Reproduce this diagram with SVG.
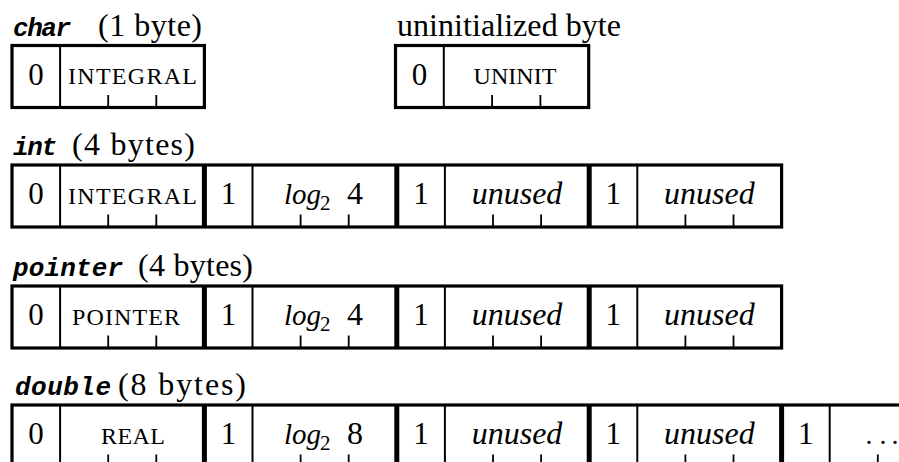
<svg xmlns="http://www.w3.org/2000/svg" width="899" height="462" viewBox="0 0 899 462">
  <style>
    .frame { fill: none; stroke: #000; stroke-width: 3.2; }
    .cell { stroke: #000; stroke-width: 2; }
    .byte { stroke: #000; stroke-width: 5; }
    .tick { stroke: #000; stroke-width: 1.8; }
    .tt { font-family: "Liberation Mono", "DejaVu Sans Mono", monospace; font-style: italic; font-weight: bold; font-size: 26px; fill: #000; }
    .rm { font-family: "Liberation Serif", "DejaVu Serif", serif; font-size: 32px; fill: #000; }
    .it { font-family: "Liberation Serif", "DejaVu Serif", serif; font-style: italic; font-size: 32px; fill: #000; }
    .sc { font-family: "Liberation Serif", "DejaVu Serif", serif; font-size: 24px; fill: #000; text-anchor: middle; }
    .num { font-family: "Liberation Serif", "DejaVu Serif", serif; font-size: 31px; fill: #000; text-anchor: middle; }
    .sub { font-family: "Liberation Serif", "DejaVu Serif", serif; font-size: 21px; fill: #000; }
    .lg { font-family: "Liberation Serif", "DejaVu Serif", serif; font-style: italic; font-size: 29px; fill: #000; }
    .dots { font-family: "Liberation Serif", "DejaVu Serif", serif; font-size: 28px; fill: #000; }
  </style>

  <!-- char: one byte, flag bit + 3-bit tag -->
  <g id="char">
    <text x="13" y="36" class="tt" textLength="58">char</text>
    <text x="98" y="36" class="rm" textLength="104">(1 byte)</text>
    <rect x="12" y="45.5" width="192.4" height="62" class="frame"/>
    <line x1="60.1" y1="45.5" x2="60.1" y2="107.5" class="cell"/>
    <line x1="108.2" y1="95" x2="108.2" y2="107.5" class="tick"/>
    <line x1="156.3" y1="95" x2="156.3" y2="107.5" class="tick"/>
    <text x="36" y="85" class="num">0</text>
    <text x="132.5" y="84" class="sc" textLength="129">INTEGRAL</text>
  </g>

  <!-- uninitialized byte -->
  <g id="uninit">
    <text x="397" y="36" class="rm" textLength="224">uninitialized byte</text>
    <rect x="395.5" y="45.5" width="193.2" height="62" class="frame"/>
    <line x1="443.8" y1="45.5" x2="443.8" y2="107.5" class="cell"/>
    <line x1="492.1" y1="95" x2="492.1" y2="107.5" class="tick"/>
    <line x1="540.4" y1="95" x2="540.4" y2="107.5" class="tick"/>
    <text x="419.6" y="85" class="num">0</text>
    <text x="515" y="84" class="sc" textLength="83">UNINIT</text>
  </g>

  <!-- int: four bytes -->
  <g id="int">
    <text x="13" y="155" class="tt" textLength="44">int</text>
    <text x="72" y="155" class="rm" textLength="123">(4 bytes)</text>
    <rect x="12" y="165" width="769.6" height="62" class="frame"/>
    <line x1="204.4" y1="165" x2="204.4" y2="227" class="byte"/>
    <line x1="396.8" y1="165" x2="396.8" y2="227" class="byte"/>
    <line x1="589.2" y1="165" x2="589.2" y2="227" class="byte"/>
    <line x1="60.1" y1="165" x2="60.1" y2="227" class="cell"/>
    <line x1="252.5" y1="165" x2="252.5" y2="227" class="cell"/>
    <line x1="444.9" y1="165" x2="444.9" y2="227" class="cell"/>
    <line x1="637.3" y1="165" x2="637.3" y2="227" class="cell"/>
    <g class="tick">
      <line x1="108.2" y1="214.5" x2="108.2" y2="227"/>
      <line x1="156.3" y1="214.5" x2="156.3" y2="227"/>
      <line x1="300.6" y1="214.5" x2="300.6" y2="227"/>
      <line x1="348.7" y1="214.5" x2="348.7" y2="227"/>
      <line x1="493" y1="214.5" x2="493" y2="227"/>
      <line x1="541.1" y1="214.5" x2="541.1" y2="227"/>
      <line x1="685.4" y1="214.5" x2="685.4" y2="227"/>
      <line x1="733.5" y1="214.5" x2="733.5" y2="227"/>
    </g>
    <text x="36" y="204" class="num">0</text>
    <text x="132.5" y="203.5" class="sc" textLength="129">INTEGRAL</text>
    <text x="228.5" y="204" class="num">1</text>
    <text x="284" y="203.5" class="lg">log</text>
    <text x="320" y="209.5" class="sub">2</text>
    <text x="347" y="204" class="rm">4</text>
    <text x="420.9" y="204" class="num">1</text>
    <text x="517" y="203.5" class="it" text-anchor="middle">unused</text>
    <text x="613.3" y="204" class="num">1</text>
    <text x="709.4" y="203.5" class="it" text-anchor="middle">unused</text>
  </g>

  <!-- pointer: four bytes -->
  <g id="pointer">
    <text x="13" y="276" class="tt" textLength="110">pointer</text>
    <text x="138" y="276" class="rm" textLength="115">(4 bytes)</text>
    <rect x="12" y="286" width="769.6" height="62" class="frame"/>
    <line x1="204.4" y1="286" x2="204.4" y2="348" class="byte"/>
    <line x1="396.8" y1="286" x2="396.8" y2="348" class="byte"/>
    <line x1="589.2" y1="286" x2="589.2" y2="348" class="byte"/>
    <line x1="60.1" y1="286" x2="60.1" y2="348" class="cell"/>
    <line x1="252.5" y1="286" x2="252.5" y2="348" class="cell"/>
    <line x1="444.9" y1="286" x2="444.9" y2="348" class="cell"/>
    <line x1="637.3" y1="286" x2="637.3" y2="348" class="cell"/>
    <g class="tick">
      <line x1="108.2" y1="335.5" x2="108.2" y2="348"/>
      <line x1="156.3" y1="335.5" x2="156.3" y2="348"/>
      <line x1="300.6" y1="335.5" x2="300.6" y2="348"/>
      <line x1="348.7" y1="335.5" x2="348.7" y2="348"/>
      <line x1="493" y1="335.5" x2="493" y2="348"/>
      <line x1="541.1" y1="335.5" x2="541.1" y2="348"/>
      <line x1="685.4" y1="335.5" x2="685.4" y2="348"/>
      <line x1="733.5" y1="335.5" x2="733.5" y2="348"/>
    </g>
    <text x="36" y="325" class="num">0</text>
    <text x="126" y="324.5" class="sc" textLength="108">POINTER</text>
    <text x="228.5" y="325" class="num">1</text>
    <text x="284" y="324.5" class="lg">log</text>
    <text x="320" y="330.5" class="sub">2</text>
    <text x="347" y="325" class="rm">4</text>
    <text x="420.9" y="325" class="num">1</text>
    <text x="517" y="324.5" class="it" text-anchor="middle">unused</text>
    <text x="613.3" y="325" class="num">1</text>
    <text x="709.4" y="324.5" class="it" text-anchor="middle">unused</text>
  </g>

  <!-- double: eight bytes, runs past the right edge -->
  <g id="double">
    <text x="15" y="395" class="tt" textLength="96">double</text>
    <text x="118" y="395" class="rm" textLength="128">(8 bytes)</text>
    <rect x="12" y="405" width="1000" height="62" class="frame"/>
    <line x1="204.4" y1="405" x2="204.4" y2="467" class="byte"/>
    <line x1="396.8" y1="405" x2="396.8" y2="467" class="byte"/>
    <line x1="589.2" y1="405" x2="589.2" y2="467" class="byte"/>
    <line x1="781.6" y1="405" x2="781.6" y2="467" class="byte"/>
    <line x1="60.1" y1="405" x2="60.1" y2="467" class="cell"/>
    <line x1="252.5" y1="405" x2="252.5" y2="467" class="cell"/>
    <line x1="444.9" y1="405" x2="444.9" y2="467" class="cell"/>
    <line x1="637.3" y1="405" x2="637.3" y2="467" class="cell"/>
    <line x1="829.7" y1="405" x2="829.7" y2="467" class="cell"/>
    <g class="tick">
      <line x1="108.2" y1="454.5" x2="108.2" y2="467"/>
      <line x1="156.3" y1="454.5" x2="156.3" y2="467"/>
      <line x1="300.6" y1="454.5" x2="300.6" y2="467"/>
      <line x1="348.7" y1="454.5" x2="348.7" y2="467"/>
      <line x1="493" y1="454.5" x2="493" y2="467"/>
      <line x1="541.1" y1="454.5" x2="541.1" y2="467"/>
      <line x1="685.4" y1="454.5" x2="685.4" y2="467"/>
      <line x1="733.5" y1="454.5" x2="733.5" y2="467"/>
      <line x1="877.8" y1="454.5" x2="877.8" y2="467"/>
    </g>
    <text x="36" y="444" class="num">0</text>
    <text x="133" y="443.5" class="sc" textLength="64">REAL</text>
    <text x="228.5" y="444" class="num">1</text>
    <text x="284" y="443.5" class="lg">log</text>
    <text x="320" y="449.5" class="sub">2</text>
    <text x="347" y="444" class="rm">8</text>
    <text x="420.9" y="444" class="num">1</text>
    <text x="517" y="443.5" class="it" text-anchor="middle">unused</text>
    <text x="613.3" y="444" class="num">1</text>
    <text x="709.4" y="443.5" class="it" text-anchor="middle">unused</text>
    <text x="805.7" y="444" class="num">1</text>
    <text x="865.5 879.5 891.5" y="443.5" class="dots">...</text>
  </g>
</svg>
